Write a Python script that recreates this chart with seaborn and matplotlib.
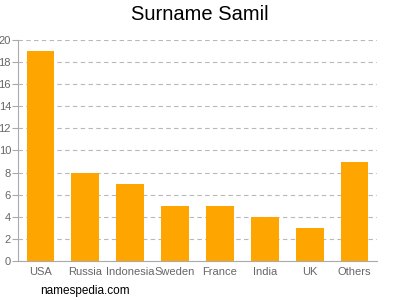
import matplotlib
matplotlib.use("Agg")
import matplotlib.pyplot as plt
import seaborn as sns
import pandas as pd

countries = ["USA", "Russia", "Indonesia", "Sweden", "France", "India", "UK", "Others"]
counts = [19, 8, 7, 5, 5, 4, 3, 9]
yticks = list(range(0, 21, 2))

sns.set_style("white")
plt.rcParams['font.family'] = ['Liberation Sans', 'DejaVu Sans']

df = pd.DataFrame({"country": countries, "count": counts})
fig = plt.figure(figsize=(4, 3), dpi=100)
ax = fig.add_axes([0.045, 0.13, 0.8975, 0.737])
sns.barplot(data=df, x="country", y="count", color="#FFA500", saturation=1, width=0.62,
            linewidth=0, edgecolor="none", ax=ax)

ax.set_ylim(0, 20)
ax.set_xlim(-0.5, len(countries) - 0.5)
ax.set_yticks(yticks)
ax.set_yticklabels([str(t) for t in yticks])
ax.yaxis.grid(True, linestyle=(0, (4, 3)), color="#b8b8b8", linewidth=0.8)
ax.set_axisbelow(True)
for s in ["top", "right"]:
    ax.spines[s].set_visible(False)
for s in ["left", "bottom"]:
    ax.spines[s].set_color("#aaaaaa")
    ax.spines[s].set_linewidth(0.8)
ax.tick_params(axis="y", left=True, length=4, color="#aaaaaa", labelsize=8, labelcolor="#666666", pad=1)
ax.tick_params(axis="x", bottom=False, labelsize=8, labelcolor="#666666", pad=1)
ax.set_xlabel("")
ax.set_ylabel("")
fig.text(0.5, 0.95, "Surname Samil", ha="center", va="center", fontsize=14.5, color="#000000")
fig.text(0.1, 0.03, "namespedia.com", ha="left", va="center", fontsize=8.5, color="#000000")
fig.savefig("out.png", dpi=100)
